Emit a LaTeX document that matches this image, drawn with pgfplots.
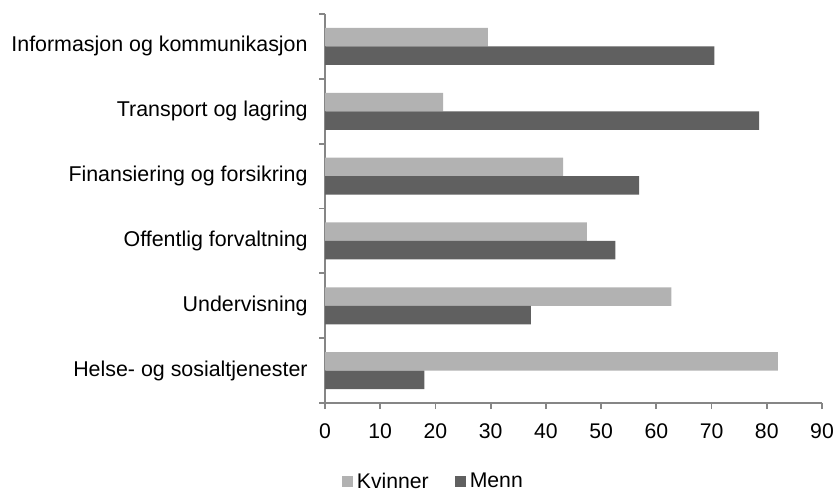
\documentclass[border=0pt]{standalone}
\usepackage{pgfplots}
\pgfplotsset{compat=1.18}
\usepackage{fontspec}
\setmainfont{Liberation Sans}
\definecolor{kv}{RGB}{178,178,178}
\definecolor{me}{RGB}{96,96,96}
\definecolor{axgray}{RGB}{134,134,134}
\begin{document}
\fontsize{10.7pt}{12pt}\selectfont
\begin{tikzpicture}
\begin{axis}[
  name=ax,
  scale only axis,
  width=248.5pt, height=194.5pt,
  xmin=0, xmax=90,
  ymin=-0.5, ymax=5.5,
  xtick={0,10,...,90},
  ytick={-0.5,0.5,1.5,2.5,3.5,4.5,5.5},
  yticklabels={},
  extra y ticks={0,1,2,3,4,5},
  extra y tick labels={Helse- og sosialtjenester,Undervisning,Offentlig forvaltning,Finansiering og forsikring,Transport og lagring,Informasjon og kommunikasjon},
  extra y tick style={tick style={draw=none}, yticklabel style={xshift=-4.5pt, inner xsep=1pt, font=\fontsize{10.7pt}{12pt}\selectfont}},
  axis x line*=bottom,
  axis y line*=left,
  axis line style={axgray, line width=0.9pt},
  tick style={axgray, line width=0.9pt},
  major tick length=3pt,
  tick align=outside,
  xticklabel style={yshift=-3.5pt, inner xsep=1pt},
  /pgf/number format/assume math mode=true,
  ticklabel style={font=\fontsize{10.6pt}{12pt}\selectfont},
  xbar,
  bar width=9.25pt,
  legend style={at={(0.22,-0.203)}, anchor=center, draw=none, legend columns=-1,
    font=\fontsize{10.6pt}{12pt}\selectfont,
    /tikz/every even column/.append style={column sep=11pt}},
  legend image code/.code={\fill[#1] (0pt,-2.75pt) rectangle (5.5pt,2.75pt);},
]
\addplot[fill=kv, draw=none, bar shift=4.625pt] coordinates {
(82.0,0) (62.7,1) (47.4,2) (43.1,3) (21.4,4) (29.5,5)};
\addplot[fill=me, draw=none, bar shift=-4.625pt] coordinates {
(18.0,0) (37.3,1) (52.6,2) (56.9,3) (78.6,4) (70.5,5)};
\legend{Kvinner,Menn}
\end{axis}
\path ([xshift=-162.5pt,yshift=-42.5pt]ax.south west) rectangle ([xshift=7.5pt,yshift=7pt]ax.north east);
\end{tikzpicture}
\end{document}
